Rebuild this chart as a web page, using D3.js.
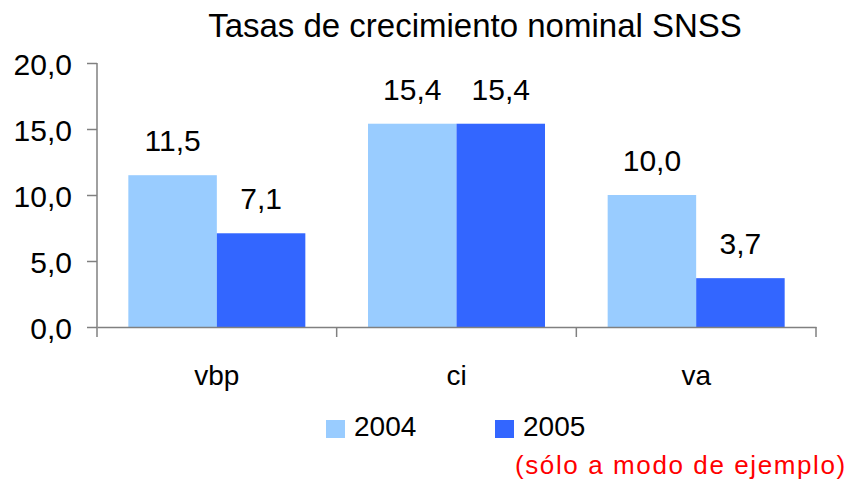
<!DOCTYPE html>
<html>
<head>
<meta charset="utf-8">
<script src="https://cdn.jsdelivr.net/npm/d3@7"></script>
<style>
  body { margin: 0; background: #fff; }
  text { font-family: "Liberation Sans", Arial, sans-serif; fill: #000; }
</style>
</head>
<body>
<div id="chart"></div>
<script>
// data
const categories = ["vbp", "ci", "va"];
const years = ["2004", "2005"];
const values2004 = [11.5, 15.4, 10.0];
const values2005 = [7.1, 15.4, 3.7];
const yTicks = [0, 5, 10, 15, 20];
const colors = ["#99CCFF", "#3366FF"];

const width = 852, height = 479;
const margin = {top: 63, right: 36, bottom: 152, left: 97};

const svg = d3.select("#chart").append("svg")
    .attr("width", width)
    .attr("height", height);

const fmt = d => d3.format(".1f")(d).replace(".", ",");

const x = d3.scaleBand()
    .domain(categories)
    .range([margin.left, width - margin.right])
    .padding(0);

const x1 = d3.scaleBand()
    .domain(years)
    .range([0, x.bandwidth()])
    .paddingInner(0)
    .paddingOuter(0.354);

const y = d3.scaleLinear()
    .domain([0, 20])
    .range([height - margin.bottom, margin.top]);

// title
svg.append("text")
    .attr("x", 475)
    .attr("y", 37)
    .attr("text-anchor", "middle")
    .style("font-size", "33px")
    .text("Tasas de crecimiento nominal SNSS");

// bars
const rows = categories.map((c, i) => ({cat: c, vals: [values2004[i], values2005[i]]}));

const groups = svg.append("g")
  .selectAll("g")
  .data(rows)
  .enter().append("g")
    .attr("transform", d => "translate(" + x(d.cat) + ",0)");

groups.selectAll("rect")
  .data(d => d.vals.map((v, j) => ({year: years[j], v: v, j: j})))
  .enter().append("rect")
    .attr("x", d => x1(d.year))
    .attr("width", x1.bandwidth())
    .attr("y", d => y(d.v))
    .attr("height", d => y(0) - y(d.v))
    .attr("fill", d => colors[d.j]);

groups.selectAll("text.val")
  .data(d => d.vals.map((v, j) => ({year: years[j], v: v})))
  .enter().append("text")
    .attr("class", "val")
    .attr("x", d => x1(d.year) + x1.bandwidth() / 2)
    .attr("y", d => y(d.v) - 24)
    .attr("text-anchor", "middle")
    .style("font-size", "30px")
    .text(d => fmt(d.v));

// y axis
const yAxis = svg.append("g")
    .attr("transform", "translate(" + margin.left + ",0)")
    .call(d3.axisLeft(y).tickValues(yTicks).tickFormat(fmt).tickSize(10).tickSizeOuter(0).tickPadding(15));

yAxis.select(".domain").attr("stroke", "#808080").attr("stroke-width", 1.5)
    .attr("d", "M0," + y(20) + "V" + (y(0) + 10));
yAxis.selectAll(".tick line").attr("stroke", "#808080").attr("stroke-width", 1.5);
yAxis.selectAll(".tick text")
    .attr("dy", "0.38em")
    .style("font-size", "30px")
    .style("font-family", "'Liberation Sans', Arial, sans-serif")
    .attr("fill", "#000");

// x axis
const xAxis = svg.append("g")
    .attr("transform", "translate(0," + y(0) + ")")
    .call(d3.axisBottom(x).tickSize(0).tickSizeOuter(0).tickPadding(38));

xAxis.select(".domain").attr("stroke", "#808080").attr("stroke-width", 1.5);
xAxis.selectAll(".tick text")
    .style("font-size", "28px")
    .style("font-family", "'Liberation Sans', Arial, sans-serif")
    .attr("fill", "#000");

const bounds = categories.map(c => x(c)).concat([x.range()[1]]).slice(1);
xAxis.selectAll("line.bound")
  .data(bounds)
  .enter().append("line")
    .attr("class", "bound")
    .attr("x1", d => d).attr("x2", d => d)
    .attr("y1", 0).attr("y2", 10)
    .attr("stroke", "#808080")
    .attr("stroke-width", 1.5);

// legend
const legendX = [326, 495];
const legend = svg.append("g");
years.forEach((yr, i) => {
  legend.append("rect")
    .attr("x", legendX[i]).attr("y", 420)
    .attr("width", 19).attr("height", 18)
    .attr("fill", colors[i]);
  legend.append("text")
    .attr("x", legendX[i] + 28).attr("y", 436)
    .style("font-size", "28px")
    .text(yr);
});

// note
svg.append("text")
    .attr("x", 515)
    .attr("y", 474)
    .style("font-size", "26px")
    .style("letter-spacing", "1.6px")
    .style("fill", "#FF0000")
    .text("(sólo a modo de ejemplo)");
</script>
</body>
</html>
